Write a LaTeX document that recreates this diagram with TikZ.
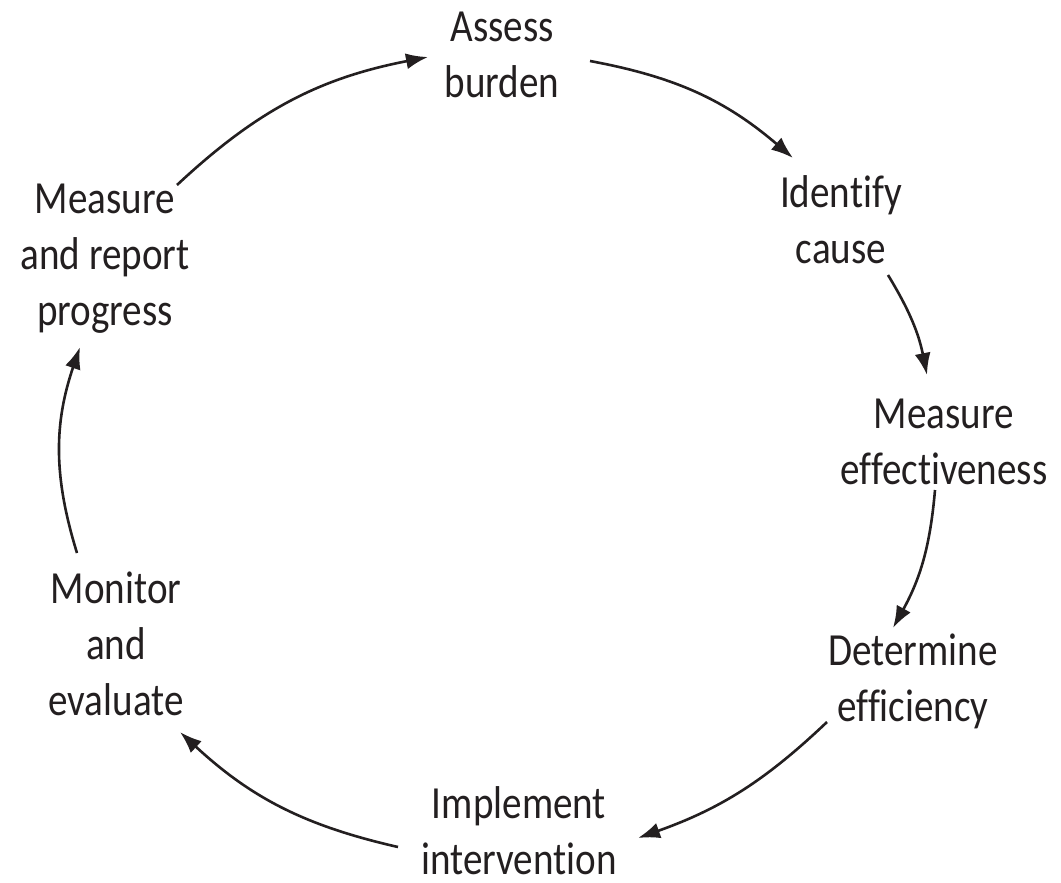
\documentclass[tikz,border=0pt]{standalone}
\usepackage{fontspec}
\setmainfont{Carlito}[FakeStretch=0.85,Ligatures=NoCommon]
\usetikzlibrary{arrows.meta}
\definecolor{ink}{HTML}{231F20}
\begin{document}
\begin{tikzpicture}[x=1pt,y=-1pt,
  lbl/.style={align=center,inner sep=0pt,anchor=base,text=ink,font=\fontsize{46}{56}\selectfont},
  cyc/.style={draw=ink,line width=2.6pt,-{Latex[length=22pt,width=16pt]}}]
\useasboundingbox (0,0) rectangle (1061,883);
\node[lbl] (assess)   at (502,98)  {Assess\\burden};
\node[lbl] (identify) at (841,263) {Identify\\cause};
\node[lbl] (meff)     at (944,484) {Measure\\effectiveness};
\node[lbl] (deff)     at (913,721) {Determine\\efficiency};
\node[lbl] (impl)     at (519,874) {Implement\\intervention};
\node[lbl] (mon)      at (116,715) {Monitor\\and\\evaluate};
\node[lbl] (mrp)      at (105,325) {Measure\\and report\\progress};
\coordinate (c1s) at (590,61);  \coordinate (c1e) at (793,158);
\coordinate (c2s) at (888,275); \coordinate (c2e) at (927,375);
\coordinate (c3s) at (935,490); \coordinate (c3e) at (893,628);
\coordinate (c4s) at (827,722); \coordinate (c4e) at (638,838);
\coordinate (c5s) at (398,847); \coordinate (c5e) at (180,732);
\coordinate (c6s) at (77,553);  \coordinate (c6e) at (80,347);
\coordinate (c7s) at (177,185); \coordinate (c7e) at (428,57);
\draw[cyc] (c1s) to[bend left=15] (c1e);
\draw[cyc] (c2s) to[bend left=10] (c2e);
\draw[cyc] (c3s) to[bend left=12] (c3e);
\draw[cyc] (c4s) to[bend left=12] (c4e);
\draw[cyc] (c5s) to[bend left=15] (c5e);
\draw[cyc] (c6s) to[bend left=18] (c6e);
\draw[cyc] (c7s) to[bend left=16] (c7e);
\end{tikzpicture}
\end{document}
